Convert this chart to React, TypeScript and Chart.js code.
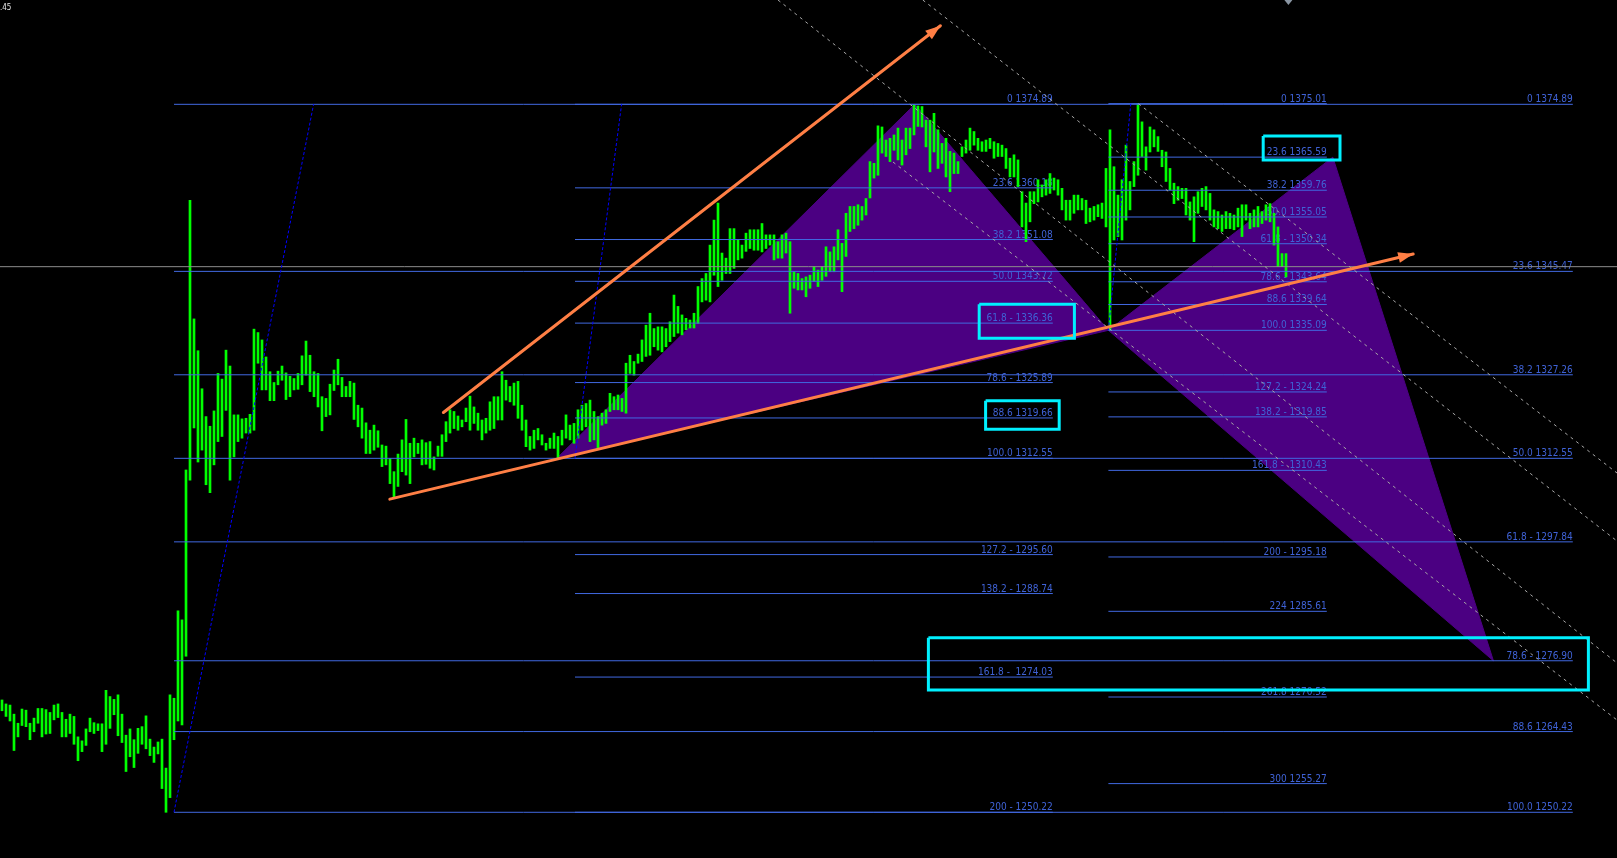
import { useEffect, useRef } from "react";
import { Chart, registerables } from "chart.js";

Chart.register(...registerables);

// Visible window: bar index on x, price on y
const X_MIN = -0.5;
const X_MAX = 403.75;
const PRICE_MIN = 1242.17;
const PRICE_MAX = 1393.26;

// Bar highs / lows, one entry per bar (index 0 = leftmost bar)
const highs: number[] = [
  1270.0, 1269.3, 1269.1, 1267.5, 1265.9, 1268.4, 1268.2, 1265.9, 1266.8, 1268.5,
  1268.5, 1268.3, 1267.8, 1269.1, 1269.3, 1267.8, 1266.6, 1267.5, 1267.1, 1263.5,
  1262.8, 1264.9, 1266.8, 1266.0, 1265.8, 1265.8, 1271.7, 1270.6, 1270.1, 1270.9,
  1267.5, 1263.8, 1264.9, 1263.0, 1265.0, 1265.3, 1267.2, 1263.1, 1261.7, 1262.6,
  1263.1, 1258.0, 1270.9, 1270.3, 1285.7, 1284.1, 1310.5, 1358.0, 1337.1, 1331.5,
  1324.8, 1319.9, 1318.2, 1320.9, 1327.5, 1326.5, 1331.6, 1328.8, 1320.2, 1320.2,
  1319.5, 1319.6, 1320.3, 1335.3, 1334.7, 1333.4, 1330.4, 1327.8, 1325.9, 1327.9,
  1328.8, 1327.6, 1327.0, 1326.6, 1327.5, 1330.6, 1333.2, 1330.7, 1327.8, 1327.5,
  1323.4, 1323.1, 1325.6, 1328.1, 1330.0, 1326.8, 1325.2, 1326.1, 1325.8, 1321.9,
  1321.4, 1318.8, 1317.5, 1318.4, 1317.4, 1314.9, 1314.7, 1312.5, 1310.2, 1313.3,
  1315.8, 1319.4, 1315.2, 1316.1, 1315.2, 1315.8, 1315.3, 1315.5, 1312.8, 1314.7,
  1316.7, 1319.0, 1321.1, 1320.8, 1320.0, 1319.3, 1321.4, 1323.5, 1321.6, 1320.5,
  1319.3, 1319.6, 1322.5, 1323.4, 1323.4, 1327.8, 1326.3, 1325.2, 1325.8, 1326.1,
  1321.9, 1319.3, 1316.4, 1317.5, 1317.8, 1316.7, 1315.2, 1316.1, 1317.0, 1316.4,
  1317.5, 1320.2, 1318.4, 1318.7, 1321.1, 1321.9, 1322.2, 1322.8, 1320.8, 1319.9,
  1320.5, 1321.1, 1324.0, 1323.4, 1323.7, 1323.1, 1329.3, 1330.7, 1329.6, 1330.9,
  1333.4, 1336.0, 1338.1, 1335.4, 1335.7, 1335.7, 1335.4, 1336.6, 1341.3, 1339.3,
  1337.8, 1337.2, 1336.9, 1338.1, 1342.8, 1344.2, 1345.1, 1350.1, 1354.5, 1357.5,
  1348.7, 1347.8, 1353.0, 1353.0, 1351.0, 1350.1, 1352.2, 1352.8, 1352.8, 1352.8,
  1353.9, 1351.9, 1351.9, 1351.9, 1350.7, 1351.9, 1352.2, 1350.7, 1345.4, 1345.1,
  1344.2, 1344.5, 1344.8, 1346.3, 1345.7, 1346.3, 1349.8, 1348.9, 1349.8, 1352.8,
  1350.4, 1355.7, 1356.9, 1356.9, 1357.2, 1356.9, 1358.3, 1364.8, 1364.5, 1371.1,
  1370.9, 1368.6, 1368.9, 1369.5, 1370.7, 1368.6, 1370.7, 1370.7, 1374.89, 1374.6,
  1374.5, 1372.1, 1372.1, 1373.3, 1370.4, 1368.0, 1368.9, 1366.6, 1366.3, 1364.8,
  1367.4, 1368.6, 1370.7, 1370.1, 1368.9, 1368.3, 1368.6, 1368.9, 1368.3, 1368.0,
  1367.7, 1367.1, 1365.4, 1366.0, 1365.1, 1359.5, 1357.5, 1359.5, 1359.5, 1361.6,
  1360.7, 1361.6, 1362.7, 1361.9, 1361.6, 1360.1, 1358.0, 1358.0, 1358.9, 1358.9,
  1358.3, 1358.0, 1356.6, 1356.9, 1357.2, 1357.5, 1363.6, 1370.4, 1363.9, 1358.9,
  1361.6, 1367.7, 1361.3, 1364.8, 1375.01, 1371.8, 1367.4, 1370.9, 1370.4, 1369.2,
  1366.8, 1366.5, 1363.6, 1361.0, 1360.4, 1360.1, 1360.1, 1357.7, 1358.6, 1359.5,
  1360.1, 1360.4, 1359.2, 1356.3, 1356.0, 1355.4, 1356.0, 1355.7, 1355.4, 1356.6,
  1357.2, 1357.2, 1355.7, 1356.3, 1356.9, 1356.0, 1357.2, 1357.4, 1355.7, 1353.3,
  1348.6, 1348.6,
];

const lows: number[] = [
  1268.1, 1267.1, 1266.3, 1261.1, 1263.5, 1265.5, 1265.3, 1263.0, 1264.4, 1265.9,
  1263.5, 1264.0, 1264.1, 1266.5, 1266.9, 1263.5, 1263.5, 1264.1, 1262.2, 1259.3,
  1260.9, 1262.0, 1264.4, 1264.1, 1264.6, 1260.9, 1262.2, 1265.0, 1267.4, 1263.7,
  1262.5, 1257.4, 1260.0, 1258.1, 1260.6, 1262.2, 1261.4, 1260.2, 1259.0, 1260.5,
  1254.4, 1250.22, 1252.8, 1263.0, 1266.3, 1265.6, 1277.7, 1308.7, 1317.9, 1311.9,
  1314.0, 1307.9, 1306.5, 1311.4, 1315.5, 1316.4, 1321.0, 1308.7, 1312.8, 1315.5,
  1316.1, 1317.0, 1317.0, 1317.5, 1329.3, 1324.6, 1324.6, 1322.7, 1322.7, 1325.5,
  1326.3, 1322.9, 1323.4, 1324.6, 1324.7, 1325.5, 1327.2, 1324.3, 1323.4, 1321.6,
  1317.4, 1319.9, 1320.2, 1324.5, 1325.5, 1323.4, 1323.4, 1323.4, 1319.4, 1318.1,
  1316.1, 1313.4, 1313.4, 1314.0, 1314.5, 1311.1, 1311.4, 1308.1, 1305.5, 1307.6,
  1310.2, 1309.6, 1308.1, 1312.8, 1313.4, 1311.4, 1311.5, 1310.8, 1310.5, 1312.9,
  1312.9, 1315.5, 1317.0, 1317.8, 1317.5, 1318.1, 1319.0, 1317.5, 1318.7, 1317.5,
  1315.8, 1317.0, 1317.5, 1317.8, 1319.3, 1319.3, 1322.8, 1322.5, 1321.9, 1319.6,
  1317.5, 1314.6, 1314.0, 1314.3, 1315.8, 1314.9, 1314.0, 1314.3, 1314.3, 1312.55,
  1314.9, 1316.1, 1315.8, 1315.2, 1316.1, 1317.5, 1318.1, 1315.5, 1315.8, 1314.3,
  1318.4, 1318.7, 1320.8, 1321.1, 1321.1, 1320.8, 1320.5, 1327.5, 1327.2, 1329.3,
  1329.6, 1330.5, 1330.7, 1332.2, 1331.6, 1331.3, 1332.2, 1333.1, 1334.0, 1334.6,
  1334.3, 1335.2, 1335.5, 1335.5, 1336.3, 1340.1, 1340.4, 1340.1, 1344.8, 1342.8,
  1343.9, 1345.1, 1345.1, 1346.0, 1347.5, 1347.8, 1349.0, 1349.5, 1349.2, 1349.2,
  1348.9, 1349.5, 1350.1, 1347.5, 1347.8, 1347.8, 1348.7, 1338.1, 1342.5, 1342.2,
  1342.2, 1341.0, 1342.5, 1343.7, 1342.8, 1343.9, 1344.6, 1345.4, 1345.4, 1347.5,
  1341.9, 1348.1, 1352.5, 1353.0, 1353.6, 1354.5, 1355.4, 1358.4, 1361.9, 1362.4,
  1366.3, 1365.7, 1364.8, 1366.8, 1365.1, 1364.2, 1366.0, 1367.1, 1369.5, 1371.0,
  1370.9, 1367.4, 1363.0, 1366.5, 1363.6, 1364.5, 1362.1, 1359.5, 1362.7, 1362.7,
  1365.7, 1366.3, 1366.8, 1367.7, 1366.8, 1366.6, 1366.6, 1367.1, 1365.4, 1365.7,
  1365.7, 1363.6, 1362.1, 1362.1, 1360.4, 1353.3, 1350.7, 1354.2, 1357.4, 1357.7,
  1358.6, 1358.9, 1359.2, 1359.8, 1358.9, 1356.3, 1354.5, 1354.5, 1355.7, 1356.3,
  1356.3, 1353.9, 1354.2, 1354.5, 1355.1, 1354.8, 1353.3, 1335.09, 1351.0, 1351.6,
  1351.0, 1354.5, 1356.3, 1360.4, 1362.4, 1365.7, 1363.3, 1366.5, 1367.4, 1366.6,
  1363.9, 1361.3, 1359.8, 1357.4, 1358.0, 1358.3, 1355.4, 1354.5, 1350.7, 1355.7,
  1356.9, 1356.3, 1354.5, 1353.3, 1353.0, 1352.5, 1353.0, 1353.0, 1352.8, 1353.3,
  1351.6, 1354.5, 1353.0, 1353.3, 1353.3, 1353.9, 1354.5, 1354.2, 1350.1, 1346.3,
  1346.3, 1344.5,
];

// Fibonacci retracement A: 1250.22 -> 1374.89
const fibAFrom = 43;
const fibATo = 392.7;
const fibAPrices = [1374.89, 1345.47, 1327.26, 1312.55, 1297.84, 1276.9, 1264.43, 1250.22];
const fibALabels = [
  "0 1374.89", "23.6 1345.47", "38.2 1327.26", "50.0 1312.55",
  "61.8 - 1297.84", "78.6 - 1276.90", "88.6 1264.43", "100.0 1250.22",
];

// Fibonacci retracement B: 1312.55 -> 1374.89
const fibBFrom = 143.25;
const fibBTo = 262.7;
const fibBPrices = [
  1374.89, 1360.18, 1351.08, 1343.72, 1336.36, 1325.89, 1319.66, 1312.55,
  1295.6, 1288.74, 1274.03, 1250.22,
];
const fibBLabels = [
  "0 1374.89", "23.6 1360.18", "38.2 1351.08", "50.0 1343.72", "61.8 - 1336.36",
  "78.6 - 1325.89", "88.6 1319.66", "100.0 1312.55", "127.2 - 1295.60",
  "138.2 - 1288.74", "161.8 -  1274.03", "200 - 1250.22",
];

// Fibonacci levels C: 1335.09 -> 1375.01
const fibCFrom = 276.6;
const fibCTo = 331.2;
const fibCPrices = [
  1375.01, 1365.59, 1359.76, 1355.05, 1350.34, 1343.64, 1339.64, 1335.09,
  1324.24, 1319.85, 1310.43, 1295.18, 1285.61, 1270.52, 1255.27,
];
const fibCLabels = [
  "0 1375.01", "23.6 1365.59", "38.2 1359.76", "50.0 1355.05", "61.8 - 1350.34",
  "78.6 - 1343.64", "88.6 1339.64", "100.0 1335.09", "127.2 - 1324.24",
  "138.2 - 1319.85", "161.8 -  1310.43", "200 - 1295.18", "224 1285.61",
  "261.8 1270.52", "300 1255.27",
];

// Anchor lines of the three Fibonacci objects (dotted)
const anchorFromIdx = [43, 143.25, 276.6];
const anchorFromPrice = [1250.22, 1312.55, 1335.09];
const anchorToIdx = [77.9, 154.9, 282.2];
const anchorToPrice = [1374.89, 1374.89, 1375.01];

// Harmonic pattern legs X-A-B and B-C-D
const xabIdx = [138.7, 228.2, 276.6];
const xabPrice = [1312.55, 1374.89, 1335.09];
const bcdIdx = [276.6, 332.7, 372.85];
const bcdPrice = [1335.09, 1365.59, 1276.9];

// Trend lines with arrows
const upperTrendIdx = [110.35, 234.6];
const upperTrendPrice = [1320.62, 1388.72];
const lowerTrendIdx = [96.95, 352.8];
const lowerTrendPrice = [1305.37, 1348.53];

// Channel lines (dashed)
const channelFromIdx = [194.0, 230.2, 222.75, 284.1];
const channelFromPrice = [1393.26, 1393.26, 1364.73, 1375.0];
const channelToIdx = [403.75, 403.75, 403.75, 403.75];
const channelToPrice = [1276.51, 1297.99, 1266.47, 1309.97];

// Highlight boxes
const boxLeft = [315.3, 244.3, 245.9, 231.6];
const boxRight = [334.5, 268.1, 264.3, 396.6];
const boxTop = [1369.31, 1339.68, 1322.7, 1280.97];
const boxBottom = [1365.09, 1333.69, 1317.66, 1271.76];

const bidPrice = 1346.3;
const shiftMarkerIdx = 321.6;
const cornerText = ".45";

const GREEN = "#00ff00";
const FIB = "#4169e1";
const FIB_TEXT = "#3f62d6";
const PURPLE = "#4b0082";
const ORANGE = "#ff7f45";
const CYAN = "#00f0ff";
const DASH = "#a8a8a8";
const DOT = "#0000ff";
const BID = "#8c8c8c";
const LABEL_FONT = '10px "Liberation Sans Narrow", "DejaVu Sans Condensed", "Arial Narrow", sans-serif';

type Pt = { x: number; y: number };

const lineDs = (data: Pt[], color: string, width: number, order: number, dash: number[] = []) => ({
  type: "line" as const,
  data,
  borderColor: color,
  borderWidth: width,
  borderDash: dash,
  borderCapStyle: "butt" as const,
  pointRadius: 0,
  pointHoverRadius: 0,
  tension: 0,
  fill: false,
  order,
});

function fibDatasets(from: number, to: number, prices: number[]) {
  return prices.map((p) => lineDs([{ x: from, y: p }, { x: to, y: p }], FIB, 1, 30));
}

function drawLabels(chart: Chart) {
  const { ctx } = chart;
  const xs = chart.scales.x;
  const ys = chart.scales.y;
  ctx.save();
  ctx.font = LABEL_FONT;
  ctx.fillStyle = FIB_TEXT;
  ctx.textAlign = "right";
  ctx.textBaseline = "alphabetic";
  const sets: [number, number[], string[]][] = [
    [fibATo, fibAPrices, fibALabels],
    [fibBTo, fibBPrices, fibBLabels],
    [fibCTo, fibCPrices, fibCLabels],
  ];
  for (const [to, prices, labels] of sets) {
    const x = xs.getPixelForValue(to);
    prices.forEach((p, i) => {
      ctx.fillText(labels[i], x, ys.getPixelForValue(p) - 2);
    });
  }
  ctx.restore();
}

function drawArrow(chart: Chart, idx: number[], price: number[]) {
  const { ctx } = chart;
  const xs = chart.scales.x;
  const ys = chart.scales.y;
  const x1 = xs.getPixelForValue(idx[0]);
  const y1 = ys.getPixelForValue(price[0]);
  const x2 = xs.getPixelForValue(idx[1]);
  const y2 = ys.getPixelForValue(price[1]);
  const a = Math.atan2(y2 - y1, x2 - x1);
  const len = 15;
  const half = 5.5;
  const bx = x2 - len * Math.cos(a);
  const by = y2 - len * Math.sin(a);
  ctx.save();
  ctx.fillStyle = ORANGE;
  ctx.beginPath();
  ctx.moveTo(x2, y2);
  ctx.lineTo(bx - half * Math.sin(a), by + half * Math.cos(a));
  ctx.lineTo(bx + half * Math.sin(a), by - half * Math.cos(a));
  ctx.closePath();
  ctx.fill();
  ctx.restore();
}

const overlayPlugin = {
  id: "overlay",
  beforeDatasetDraw(chart: Chart, args: any) {
    if (args.meta.type === "bar") drawLabels(chart);
  },
  afterDatasetsDraw(chart: Chart) {
    drawArrow(chart, upperTrendIdx, upperTrendPrice);
    drawArrow(chart, lowerTrendIdx, lowerTrendPrice);
    const { ctx } = chart;
    const mx = chart.scales.x.getPixelForValue(shiftMarkerIdx);
    ctx.save();
    ctx.fillStyle = "#8a96a3";
    ctx.beginPath();
    ctx.moveTo(mx - 4, 0);
    ctx.lineTo(mx + 4, 0);
    ctx.lineTo(mx, 5);
    ctx.closePath();
    ctx.fill();
    ctx.font = '8px "DejaVu Sans Condensed", sans-serif';
    ctx.fillStyle = "#e6e6e6";
    ctx.textAlign = "left";
    ctx.textBaseline = "alphabetic";
    ctx.fillText(cornerText, 0, 10);
    ctx.restore();
  },
};

export default function App() {
  const canvasRef = useRef<HTMLCanvasElement | null>(null);

  useEffect(() => {
    const canvas = canvasRef.current;
    if (!canvas) return;
    document.body.style.margin = "0";
    document.body.style.background = "#000";

    const datasets: any[] = [];

    // Harmonic pattern triangles
    datasets.push({
      ...lineDs(
        [...xabIdx.map((x, i) => ({ x, y: xabPrice[i] })), { x: xabIdx[0], y: xabPrice[0] }],
        PURPLE, 1, 100,
      ),
      fill: "shape",
      backgroundColor: PURPLE,
    });
    datasets.push({
      ...lineDs(
        [...bcdIdx.map((x, i) => ({ x, y: bcdPrice[i] })), { x: bcdIdx[0], y: bcdPrice[0] }],
        PURPLE, 1, 100,
      ),
      fill: "shape",
      backgroundColor: PURPLE,
    });

    // Price bars
    datasets.push({
      type: "bar",
      data: highs.map((h, i) => ({ x: i, y: [lows[i], h] })),
      backgroundColor: GREEN,
      borderWidth: 0,
      barThickness: 2,
      grouped: false,
      order: 50,
    });

    // Bid line
    datasets.push(lineDs([{ x: X_MIN, y: bidPrice }, { x: X_MAX, y: bidPrice }], BID, 1, 40));

    // Fibonacci levels
    datasets.push(...fibDatasets(fibAFrom, fibATo, fibAPrices));
    datasets.push(...fibDatasets(fibBFrom, fibBTo, fibBPrices));
    datasets.push(...fibDatasets(fibCFrom, fibCTo, fibCPrices));

    // Fibonacci anchor lines
    anchorFromIdx.forEach((x, i) => {
      datasets.push(
        lineDs([{ x, y: anchorFromPrice[i] }, { x: anchorToIdx[i], y: anchorToPrice[i] }], DOT, 1, 25, [3, 2]),
      );
    });

    // Channel lines
    channelFromIdx.forEach((x, i) => {
      datasets.push(
        lineDs([{ x, y: channelFromPrice[i] }, { x: channelToIdx[i], y: channelToPrice[i] }], DASH, 1, 20, [3, 4]),
      );
    });

    // Trend lines
    datasets.push({
      ...lineDs(upperTrendIdx.map((x, i) => ({ x, y: upperTrendPrice[i] })), ORANGE, 3, 10),
      borderCapStyle: "round",
    });
    datasets.push({
      ...lineDs(lowerTrendIdx.map((x, i) => ({ x, y: lowerTrendPrice[i] })), ORANGE, 3, 10),
      borderCapStyle: "round",
    });

    // Highlight boxes
    boxLeft.forEach((l, i) => {
      const r = boxRight[i];
      const t = boxTop[i];
      const b = boxBottom[i];
      datasets.push({
        ...lineDs(
          [{ x: l, y: t }, { x: r, y: t }, { x: r, y: b }, { x: l, y: b }, { x: l, y: t }],
          CYAN, 3, 5,
        ),
        borderJoinStyle: "miter",
      });
    });

    const chart = new Chart(canvas, {
      type: "bar",
      data: { datasets },
      options: {
        animation: false,
        responsive: false,
        maintainAspectRatio: false,
        devicePixelRatio: 1,
        events: [],
        layout: { padding: 0 },
        plugins: {
          legend: { display: false },
          tooltip: { enabled: false },
          title: { display: false },
        },
        scales: {
          x: { type: "linear", min: X_MIN, max: X_MAX, display: false, offset: false },
          y: { type: "linear", min: PRICE_MIN, max: PRICE_MAX, display: false },
        },
      },
      plugins: [overlayPlugin],
    } as any);

    return () => chart.destroy();
  }, []);

  return (
    <canvas
      ref={canvasRef}
      width={1617}
      height={858}
      style={{ position: "fixed", left: 0, top: 0, display: "block", background: "#000" }}
    />
  );
}
